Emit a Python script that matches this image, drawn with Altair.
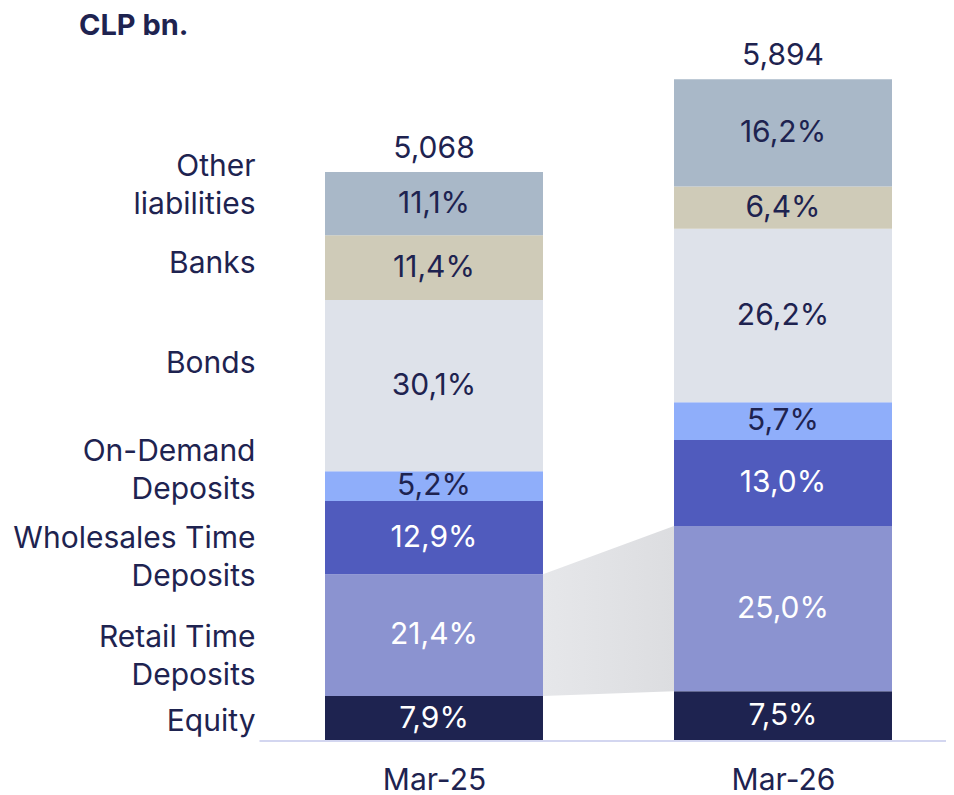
import altair as alt
import pandas as pd

# ---- data ----
periods = ["Mar-25", "Mar-26"]
totals = [5068, 5894]
categories = ["Equity", "Retail Time Deposits", "Wholesales Time Deposits",
              "On-Demand Deposits", "Bonds", "Banks", "Other liabilities"]
label_text = ["Equity", "Retail Time\nDeposits", "Wholesales Time\nDeposits",
              "On-Demand\nDeposits", "Bonds", "Banks", "Other\nliabilities"]
pct_mar25 = [7.9, 21.4, 12.9, 5.2, 30.1, 11.4, 11.1]
pct_mar26 = [7.5, 25.0, 13.0, 5.7, 26.2, 6.4, 16.2]

# ---- style ----
NAVY = "#1e2350"
colors = ["#1e2350", "#8b93d0", "#505bbd", "#8faefa", "#dee2ea", "#cfcbb8", "#a9b8c8"]
white_text = ["Equity", "Retail Time Deposits", "Wholesales Time Deposits"]
label_dy = [3, 3, 1, -34, -22, -4, -37]
FONT = "Inter"
FS = 30
HW = 0.3123  # half bar width in x units

rows = []
for i, (per, tot, pcts) in enumerate(zip(periods, totals, [pct_mar25, pct_mar26])):
    cum = 0.0
    for cat, p in zip(categories, pcts):
        lo = cum / 100 * tot
        cum += p
        hi = cum / 100 * tot
        rows.append(dict(period=per, pos=i + 1, category=cat, pct=p,
                         lo=lo, hi=hi, mid=(lo + hi) / 2, total=tot))
df = pd.DataFrame(rows)

xscale = alt.Scale(domain=[-0.22063, 2.46705], nice=False, zero=False)
yscale = alt.Scale(domain=[0, 6529], nice=False, zero=False)

label_expr = " : ".join(
    [f"datum.value == {i + 1} ? '{p}'" for i, p in enumerate(periods)]) + " : ''"

base = alt.Chart(df)

# connector for Retail Time Deposits
conn_df = df[df.category == "Retail Time Deposits"].copy()
conn_df["cx"] = conn_df["pos"] + conn_df["pos"].map({1: HW, 2: -HW})
connector = alt.Chart(conn_df).mark_area(
    color=alt.Gradient(gradient="linear",
                       stops=[alt.GradientStop(color="#e6e7ea", offset=0),
                              alt.GradientStop(color="#dcdde0", offset=1)],
                       x1=0, x2=1, y1=0, y2=0),
    interpolate="linear"
).encode(
    x=alt.X("cx:Q", scale=xscale,
            axis=alt.Axis(values=[1, 2], labelExpr=label_expr, domain=False,
                          ticks=False, grid=False, labelFontSize=FS,
                          labelFont=FONT, labelColor=NAVY, labelPadding=24,
                          title=None)),
    y=alt.Y("lo:Q", scale=yscale, axis=None),
    y2="hi:Q",
)

bars = base.transform_calculate(
    xl=f"datum.pos - {HW}", xr=f"datum.pos + {HW}"
).mark_bar().encode(
    x=alt.X("xl:Q", scale=xscale),
    x2="xr:Q",
    y=alt.Y("lo:Q", scale=yscale, axis=None),
    y2="hi:Q",
    color=alt.Color("category:N", scale=alt.Scale(domain=categories, range=colors),
                    legend=None),
)

wt = "[" + ",".join(f"'{c}'" for c in white_text) + "]"
pct_text = base.transform_calculate(
    lbl="replace(format(datum.pct, '.1f'), '.', ',') + '%'"
).mark_text(font=FONT, fontSize=FS, baseline="middle", align="center").encode(
    x=alt.X("pos:Q", scale=xscale),
    y=alt.Y("mid:Q", scale=yscale, axis=None),
    text="lbl:N",
    color=alt.condition(f"indexof({wt}, datum.category) >= 0",
                        alt.value("white"), alt.value(NAVY)),
)

tot_df = pd.DataFrame(dict(period=periods, pos=[1, 2], total=totals))
tot_text = alt.Chart(tot_df).mark_text(
    font=FONT, fontSize=FS, baseline="alphabetic", align="center", dy=-14, color=NAVY
).encode(
    x=alt.X("pos:Q", scale=xscale),
    y=alt.Y("total:Q", scale=yscale, axis=None),
    text=alt.Text("total:Q", format=","),
)

# category labels on the left, aligned with Mar-25 segments
lab_layers = []
d25 = df[df.period == periods[0]].reset_index(drop=True)
for i, cat in enumerate(categories):
    sub = d25[d25.category == cat].copy()
    sub["label"] = label_text[i]
    lab_layers.append(
        alt.Chart(sub).mark_text(
            font=FONT, fontSize=FS, align="right", baseline="middle",
            lineBreak="\n", lineHeight=38, color=NAVY, dy=label_dy[i], dx=-4
        ).encode(
            x=alt.datum(0.5, scale=xscale),
            y=alt.Y("mid:Q", scale=yscale, axis=None),
            text="label:N",
        )
    )

rule_df = pd.DataFrame(dict(x0=[0.5], y0=[0.0]))
baseline = alt.Chart(rule_df).mark_rule(color="#d3d6f0", strokeWidth=2).encode(
    x=alt.X("x0:Q", scale=xscale),
    x2=alt.value(938),
    y=alt.Y("y0:Q", scale=yscale, axis=None),
)

title = alt.Chart(tot_df.head(1)).mark_text(
    font=FONT, fontSize=29, fontWeight="bold", align="left", baseline="middle",
    color=NAVY, text="CLP bn."
).encode(x=alt.value(71), y=alt.value(18))

chart = alt.layer(connector, bars, pct_text, tot_text, baseline, title, *lab_layers).properties(
    width=938, height=733,
    autosize=alt.AutoSizeParams(type="none"),
    padding={"left": 0, "top": 0, "right": 0, "bottom": 52},
).configure_view(stroke=None).configure_axis(grid=False)

chart.save("out.html", embed_options={"renderer": "svg", "actions": False})
